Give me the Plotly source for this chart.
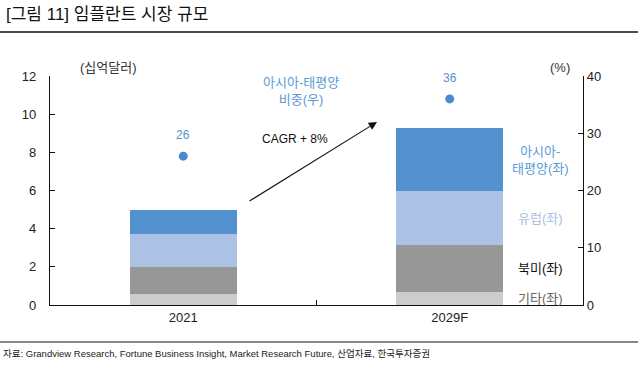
import plotly.graph_objects as go

categories = ["2021", "2029F"]
other = [0.6, 0.7]
north_america = [1.4, 2.45]
europe = [1.7, 2.8]
asia_pacific = [1.3, 3.3]
asia_share = [26, 36]

seg_names = ["기타(좌)", "북미(좌)", "유럽(좌)", "아시아-<br>태평양(좌)"]
seg_colors = ["#CCCCCC", "#979797", "#ABC2E5", "#5492CF"]
label_colors = ["#666666", "#111111", "#A9C0E3", "#5B9BD5"]
series = [other, north_america, europe, asia_pacific]

FONT = "Liberation Sans, Arial, Noto Sans CJK KR, sans-serif"

fig = go.Figure()
for name, vals, col in zip(seg_names, series, seg_colors):
    fig.add_trace(go.Bar(x=categories, y=vals, name=name, marker=dict(color=col, line=dict(width=0)),
                         width=0.4, showlegend=False, hoverinfo="skip"))

fig.add_trace(go.Scatter(x=categories, y=asia_share, yaxis="y2", mode="markers",
                         marker=dict(size=9, color="#4A89D0"), showlegend=False, hoverinfo="skip"))

annotations = []
for i, v in enumerate(asia_share):
    annotations.append(dict(x=i, y=v, xref="x", yref="y2", text=str(v), showarrow=False, yshift=21,
                            font=dict(size=12, color="#5B8FD0", family=FONT)))

# segment labels to the right of the last bar
base = 0
last = len(categories) - 1
for name, vals, lc in zip(seg_names, series, label_colors):
    mid = base + vals[last] / 2
    base += vals[last]
    annotations.append(dict(x=last + 0.34, y=mid, xref="x", yref="y", text=name, showarrow=False,
                            font=dict(size=13, color=lc, family=FONT), align="center"))

annotations += [
    dict(x=0.44, y=11.2, xref="x", yref="y", text="아시아-태평양<br>비중(우)", showarrow=False,
         font=dict(size=13, color="#5B9BD5", family=FONT), align="center"),
    dict(x=0.42, y=8.7, xref="x", yref="y", text="CAGR + 8%", showarrow=False,
         font=dict(size=12, color="#111111", family=FONT)),
    dict(x=0.727, y=9.59, ax=0.243, ay=5.40, xref="x", yref="y", axref="x", ayref="y",
         text="", showarrow=True, arrowhead=2, arrowsize=1.5, arrowwidth=1.1, arrowcolor="#111111"),
    dict(x=(4 - 50) / 533, y=(305 - 15) / 229, xref="paper", yref="paper", text="[그림 11] 임플란트 시장 규모",
         showarrow=False, xanchor="left", yanchor="middle", font=dict(size=17, color="#111111", family=FONT)),
    dict(x=(78 - 50) / 533, y=(305 - 58) / 229, xref="paper", yref="paper", text="(십억달러)", showarrow=False,
         font=dict(size=13, color="#333333", family=FONT)),
    dict(x=(572 - 50) / 533, y=(305 - 58) / 229, xref="paper", yref="paper", text="(%)", showarrow=False,
         font=dict(size=13, color="#333333", family=FONT)),
    dict(x=(1 - 50) / 533, y=(305 - 353) / 229, xref="paper", yref="paper",
         text="자료: Grandview Research, Fortune Business Insight, Market Research Future, 산업자료, 한국투자증권",
         showarrow=False, xanchor="left", yanchor="middle", font=dict(size=9.5, color="#222222", family=FONT)),
]

shapes = [
    dict(type="line", xref="paper", yref="paper", x0=-0.1, x1=1.11, y0=(305 - 32) / 229, y1=(305 - 32) / 229,
         line=dict(color="#111111", width=1.5)),
    dict(type="line", xref="paper", yref="paper", x0=-0.1, x1=1.11, y0=(305 - 342) / 229, y1=(305 - 342) / 229,
         line=dict(color="#111111", width=1.2)),
]

fig.update_layout(
    width=638, height=369, margin=dict(l=50, r=55, t=76, b=64),
    paper_bgcolor="white", plot_bgcolor="white", barmode="stack", bargap=0.6,
    font=dict(family=FONT, size=13, color="#333333"), hovermode=False,
    xaxis=dict(type="category", range=[-0.5, 1.5], showline=True, linecolor="#111111", linewidth=1.2,
               ticks="inside", tickson="boundaries", ticklen=5, tickcolor="#111111", showgrid=False,
               tickfont=dict(size=13, color="#222222")),
    yaxis=dict(range=[0, 12], dtick=2, showline=True, linecolor="#111111", linewidth=1.2, ticks="inside",
               ticklen=5, tickcolor="#111111", showgrid=False, zeroline=False, ticklabelstandoff=10,
               tickfont=dict(size=13, color="#222222")),
    yaxis2=dict(range=[0, 40], dtick=10, overlaying="y", side="right", showline=True, linecolor="#111111",
                linewidth=1.2, ticks="inside", ticklen=5, tickcolor="#111111", showgrid=False, zeroline=False,
                tickfont=dict(size=13, color="#222222")),
    annotations=annotations, shapes=shapes,
)

fig.write_html("out.html", config={"displayModeBar": False},
               post_script="document.body.style.margin='0';")
